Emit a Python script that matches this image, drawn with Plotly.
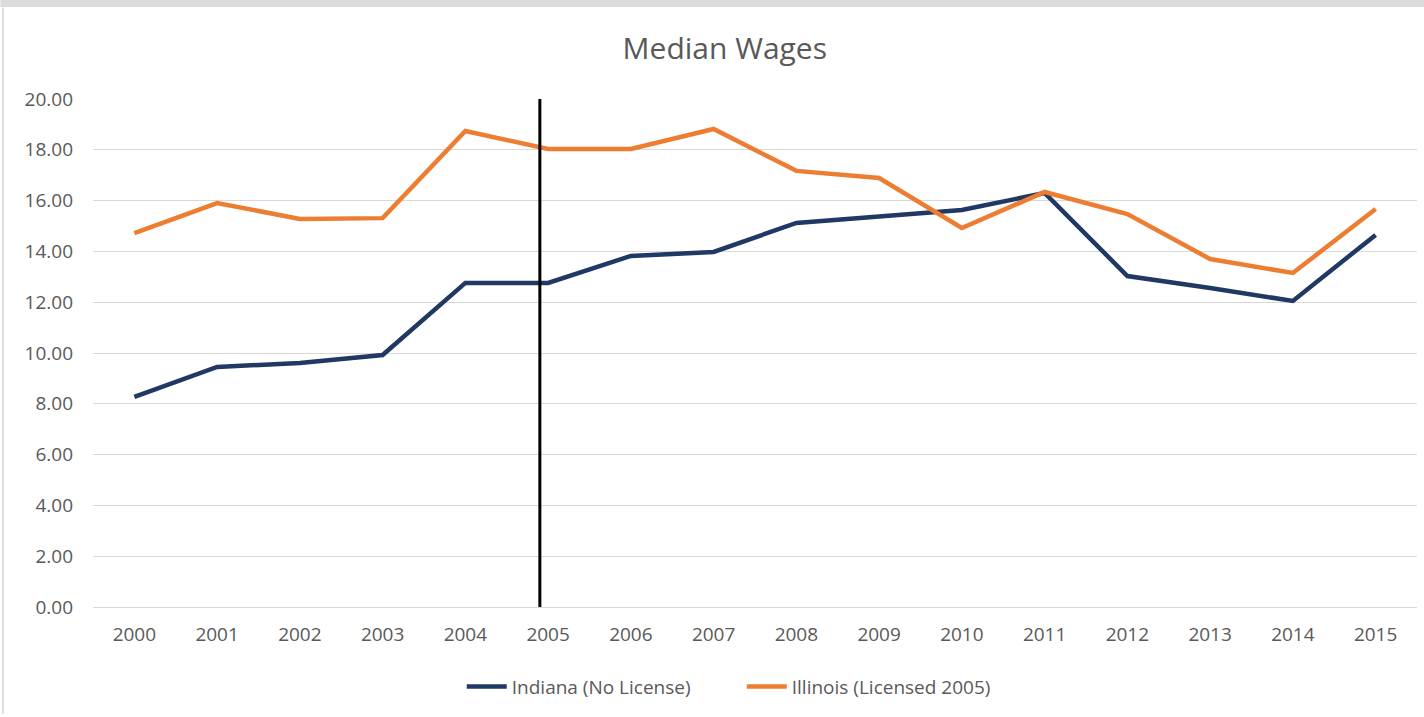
import plotly.graph_objects as go

# Median hourly wages by year
years = [2000, 2001, 2002, 2003, 2004, 2005, 2006, 2007,
         2008, 2009, 2010, 2011, 2012, 2013, 2014, 2015]
indiana = [8.27, 9.45, 9.61, 9.92, 12.76, 12.76, 13.82, 13.98,
           15.12, 15.39, 15.63, 16.30, 13.03, 12.56, 12.05, 14.65]
illinois = [14.72, 15.90, 15.28, 15.31, 18.74, 18.03, 18.03, 18.82,
            17.17, 16.89, 14.92, 16.34, 15.47, 13.70, 13.15, 15.67]
y_ticks = [0, 2, 4, 6, 8, 10, 12, 14, 16, 18, 20]
license_year = 2004.9  # marker for when Illinois introduced licensing

NAVY = "#203864"
ORANGE = "#ED7D31"
TEXT = "#595959"
GRID = "#D9D9D9"
FONT = "Open Sans"

fig = go.Figure()
fig.add_trace(go.Scatter(
    x=years, y=indiana, mode="lines", name="Indiana (No License)",
    line=dict(color=NAVY, width=4.5),
))
fig.add_trace(go.Scatter(
    x=years, y=illinois, mode="lines", name="Illinois (Licensed 2005)",
    line=dict(color=ORANGE, width=4.5),
))

# Vertical reference line at the licensing year
fig.add_shape(type="line", xref="x", yref="y",
              x0=license_year, x1=license_year, y0=0, y1=20,
              line=dict(color="black", width=3), layer="above")

# Thin frame edges along the top and left of the image
fig.add_shape(type="rect", xref="paper", yref="paper",
              x0=-0.07, x1=1.01, y0=1.181, y1=1.197,
              fillcolor="#DCDCDC", line=dict(width=0), layer="below")
fig.add_shape(type="line", xref="paper", yref="paper",
              x0=-0.068, x1=-0.068, y0=-0.21, y1=1.18,
              line=dict(color="#D4D4D4", width=1.5), layer="below")

fig.update_layout(
    width=1424, height=717,
    margin=dict(l=93, r=7, t=99, b=110),
    paper_bgcolor="white", plot_bgcolor="white",
    font=dict(family=FONT, color=TEXT, size=19),
    title=dict(text="Median Wages", x=0.509, xanchor="center",
               y=0.933, yanchor="middle",
               font=dict(family=FONT, size=30, color=TEXT)),
    showlegend=True,
    legend=dict(orientation="h", x=0.49, xanchor="center",
                y=-0.157, yanchor="middle",
                font=dict(family=FONT, size=19, color=TEXT),
                itemwidth=40, traceorder="normal",
                entrywidth=225, entrywidthmode="pixels"),
    xaxis=dict(
        range=[1999.5, 2015.5], tickmode="array", tickvals=years,
        ticktext=[str(y) for y in years],
        showgrid=False, zeroline=False, showline=False,
        ticks="", ticklabelstandoff=14,
        tickfont=dict(family=FONT, size=19, color=TEXT),
    ),
    yaxis=dict(
        range=[0, 20], tickmode="array", tickvals=y_ticks,
        ticktext=[f"{v:.2f}" for v in y_ticks],
        showgrid=True, gridcolor=GRID, gridwidth=1.3,
        zeroline=True, zerolinecolor=GRID, zerolinewidth=1.3,
        showline=False, ticks="", ticklabelstandoff=19,
        tickfont=dict(family=FONT, size=19, color=TEXT),
    ),
)

fig.write_html("out.html")
